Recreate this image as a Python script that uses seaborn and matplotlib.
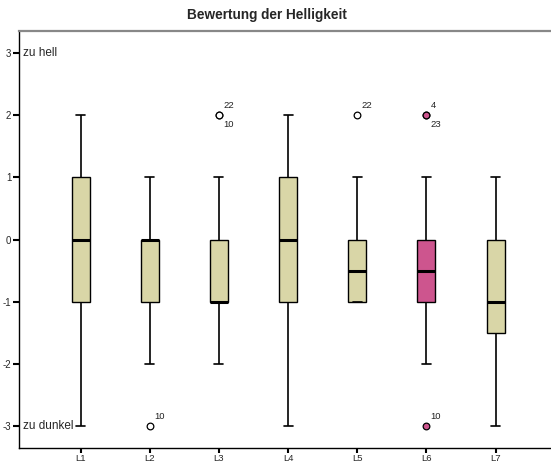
import pandas as pd
import matplotlib
matplotlib.use("Agg")
import matplotlib.pyplot as plt
import seaborn as sns

# Bewertungen je Leuchte (-3 = zu dunkel ... 3 = zu hell)
leuchten = ["L1", "L2", "L3", "L4", "L5", "L6", "L7"]
bew_l1 = [-3, -2, -2, -1, -1, -1, -1, -1, 0, 0, 0, 0, 0, 0, 1, 1, 1, 1, 1, 1, 1, 2, 2, 2]
bew_l2 = [-3, -2, -2, -1, -1, -1, -1, -1, -1, 0, 0, 0, 0, 0, 0, 0, 0, 0, 0, 0, 0, 1, 1, 1]
bew_l3 = [-2, -2, -2, -1, -1, -1, -1, -1, -1, -1, -1, -1, -1, 0, 0, 0, 0, 0, 0, 0, 1, 1, 2, 2]
bew_l4 = [-3, -3, -2, -1, -1, -1, -1, -1, 0, 0, 0, 0, 0, 0, 1, 1, 1, 1, 1, 1, 2, 2, 2, 2]
bew_l5 = [-1, -1, -1, -1, -1, -1, -1, -1, -1, -1, -1, -1, 0, 0, 0, 0, 0, 0, 0, 0, 0, 1, 1, 2]
bew_l6 = [-3, -2, -2, -1, -1, -1, -1, -1, -1, -1, -1, -1, 0, 0, 0, 0, 0, 0, 0, 1, 1, 1, 2, 2]
bew_l7 = [-3, -3, -2, -2, -2, -2, -1, -1, -1, -1, -1, -1, -1, 0, 0, 0, 0, 0, 0, 0, 1, 1, 1]
bewertungen = [bew_l1, bew_l2, bew_l3, bew_l4, bew_l5, bew_l6, bew_l7]

# Fallnummern der Ausreisser
fall_leuchte = ["L2", "L3", "L3", "L5", "L6", "L6", "L6"]
fall_wert = [-3, 2, 2, 2, 2, 2, -3]
fall_nr = ["10", "22", "10", "22", "4", "23", "10"]

farbe_normal = "#d9d6a7"
farbe_l6 = "#cd558e"
farben = {l: (farbe_l6 if l == "L6" else farbe_normal) for l in leuchten}

# long format
df = pd.concat(
    [pd.DataFrame({"Leuchte": l, "Bewertung": b}) for l, b in zip(leuchten, bewertungen)],
    ignore_index=True
)

sns.set_style("white")
plt.rcParams["font.family"] = ["Liberation Sans", "DejaVu Sans"]
plt.rcParams["axes.unicode_minus"] = False

fig = plt.figure(figsize=(5.51, 4.65), dpi=100)
ax = fig.add_axes([19 / 551, 17 / 465, 1 - 19 / 551, 417 / 465])

sns.boxplot(
    data=df, x="Leuchte", y="Bewertung", hue="Leuchte", order=leuchten,
    hue_order=leuchten, palette=farben, legend=False, width=0.26,
    saturation=1, linewidth=1.0, linecolor="black", whis=1.5, ax=ax,
    medianprops=dict(color="black", linewidth=2.2),
    whiskerprops=dict(color="black", linewidth=1.2),
    capprops=dict(color="black", linewidth=1.2),
    flierprops=dict(marker="o", markersize=4.8, markeredgecolor="black",
                    markeredgewidth=0.9, markerfacecolor="white"),
)

# Ausreisser von L6 eingefaerbt
for cont, l in zip(ax.containers, leuchten):
    fl_list = getattr(cont, "fliers", [])
    for fl in fl_list:
        fl.set_markerfacecolor(farben[l] if l == "L6" else "white")

# Fallnummern
schon = []
for l, w, nr in zip(fall_leuchte, fall_wert, fall_nr):
    x = leuchten.index(l)
    if (l, w) in schon:
        off = (3, -7)
    else:
        off = (3, 7)
    schon.append((l, w))
    ax.annotate(nr, xy=(x, w), xytext=off, textcoords="offset points",
                fontsize=6.8, ha="left", va="center", color="#222222")

ax.annotate("zu hell", xy=(0, 3), xycoords=("axes fraction", "data"),
            xytext=(3, 0), textcoords="offset points", fontsize=8.5,
            ha="left", va="center")
ax.annotate("zu dunkel", xy=(0, -3), xycoords=("axes fraction", "data"),
            xytext=(3, 0), textcoords="offset points", fontsize=8.5,
            ha="left", va="center")

ax.set_xlim(-0.89, 6.8)
ax.set_ylim(-3.35, 3.35)
ax.set_yticks([-3, -2, -1, 0, 1, 2, 3])
ax.set_xlabel("")
ax.set_ylabel("")
ax.tick_params(axis="y", direction="out", length=4, width=1.5,
               labelsize=7, color="black", pad=1.5, left=True)
ax.tick_params(axis="x", direction="out", length=3.5, width=1.5,
               labelsize=6.8, color="black", pad=0.8, bottom=True)

ax.spines["right"].set_visible(False)
ax.spines["top"].set_color("#888888")
ax.spines["top"].set_linewidth(1.6)
ax.spines["left"].set_color("black")
ax.spines["left"].set_linewidth(1.0)
ax.spines["bottom"].set_color("black")
ax.spines["bottom"].set_linewidth(1.0)

fig.suptitle("Bewertung der Helligkeit", x=267 / 551, y=1 - 15 / 465,
             fontsize=9.8, fontweight="bold", va="center")

fig.savefig("out.png", dpi=100)
